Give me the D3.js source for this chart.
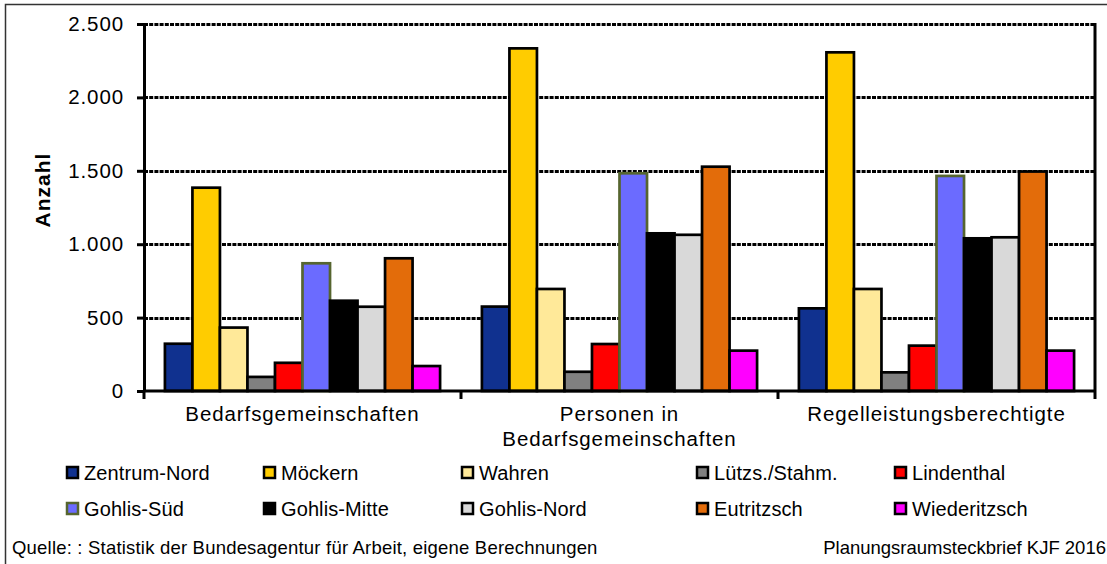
<!DOCTYPE html>
<html>
<head>
<meta charset="utf-8">
<script src="https://cdn.jsdelivr.net/npm/d3@7"></script>
<style>
  body { margin: 0; background: #fff; }
  svg { display: block; font-family: "Liberation Sans", Arial, sans-serif; }
</style>
</head>
<body>
<svg width="1107" height="564"></svg>
<script>
// data
var categories = ["Bedarfsgemeinschaften", "Personen in\nBedarfsgemeinschaften", "Regelleistungsberechtigte"];
var series = ["Zentrum-Nord", "Möckern", "Wahren", "Lützs./Stahm.", "Lindenthal",
              "Gohlis-Süd", "Gohlis-Mitte", "Gohlis-Nord", "Eutritzsch", "Wiederitzsch"];
var colors = ["#10318f", "#ffcc00", "#ffe999", "#808080", "#ff0000",
              "#6b6bff", "#000000", "#d9d9d9", "#e36c0a", "#ff00ff"];
var strokes = ["#000", "#000", "#000", "#000", "#000", "#56652f", "#000", "#000", "#000", "#000"];
// one array per district: values for the three categories
var zentrumNord  = [322, 575, 563];
var moeckern     = [1385, 2334, 2307];
var wahren       = [432, 695, 695];
var luetzs       = [96, 131, 127];
var lindenthal   = [192, 320, 309];
var gohlisSued   = [870, 1483, 1465];
var gohlisMitte  = [615, 1074, 1040];
var gohlisNord   = [574, 1064, 1047];
var eutritzsch   = [904, 1528, 1495];
var wiederitzsch = [170, 275, 275];
var values = [zentrumNord, moeckern, wahren, luetzs, lindenthal,
              gohlisSued, gohlisMitte, gohlisNord, eutritzsch, wiederitzsch];
var yTicks = [0, 500, 1000, 1500, 2000, 2500];

var de = d3.formatLocale({decimal: ",", thousands: ".", grouping: [3], currency: ["", " €"]});
var fmt = de.format(",d");

var svg = d3.select("svg");

// outer frame
svg.append("rect")
  .attr("x", 5.5).attr("y", 4.5)
  .attr("width", 1120).attr("height", 580)
  .attr("fill", "none").attr("stroke", "#333").attr("stroke-width", 1.5);

var plotL = 144, plotR = 1095, plotT = 24, plotB = 391;

var x0 = d3.scaleBand().domain(categories).range([plotL, plotR]);
var x1 = d3.scaleBand().domain(series).range([0, x0.bandwidth()]).paddingOuter(0.76);
var y = d3.scaleLinear().domain([0, 2500]).range([plotB, plotT]);

// gridlines
svg.append("g").selectAll("line")
  .data(yTicks.filter(function(d) { return d > 0; }))
  .join("line")
  .attr("x1", plotL).attr("x2", plotR)
  .attr("y1", function(d) { return Math.round(y(d)) + 0.5; })
  .attr("y2", function(d) { return Math.round(y(d)) + 0.5; })
  .attr("stroke", "#000").attr("stroke-width", 3)
  .attr("stroke-dasharray", "4,1.2");

// right border of plot area
svg.append("line")
  .attr("x1", plotR).attr("x2", plotR).attr("y1", plotT - 1).attr("y2", plotB)
  .attr("stroke", "#000").attr("stroke-width", 3);

// bars
var groups = svg.append("g").selectAll("g")
  .data(categories)
  .join("g")
  .attr("transform", function(d) { return "translate(" + x0(d) + ",0)"; });

groups.selectAll("rect")
  .data(function(c, ci) {
    return series.map(function(s, si) { return {s: s, i: si, v: values[si][ci]}; });
  })
  .join("rect")
  .attr("x", function(d) { return x1(d.s); })
  .attr("width", x1.bandwidth())
  .attr("y", function(d) { return y(d.v); })
  .attr("height", function(d) { return plotB - y(d.v); })
  .attr("fill", function(d) { return colors[d.i]; })
  .attr("stroke", function(d) { return strokes[d.i]; })
  .attr("stroke-width", 2.7);

// y axis
var yAxis = svg.append("g")
  .attr("transform", "translate(" + plotL + ",0)")
  .call(d3.axisLeft(y).tickValues(yTicks).tickFormat(fmt).tickSize(7).tickSizeOuter(0).tickPadding(13));
yAxis.select(".domain").attr("stroke", "#000").attr("stroke-width", 3);
yAxis.selectAll(".tick line").attr("stroke", "#000").attr("stroke-width", 3);
yAxis.selectAll(".tick text")
  .attr("font-size", 20.5).attr("letter-spacing", 0.9).attr("fill", "#000")
  .attr("font-family", "Liberation Sans, Arial, sans-serif");

// x axis
var xAxis = svg.append("g")
  .attr("transform", "translate(0," + plotB + ")");
xAxis.append("line")
  .attr("x1", plotL).attr("x2", plotR)
  .attr("stroke", "#000").attr("stroke-width", 3);
xAxis.selectAll(".tk")
  .data(categories.map(function(c) { return x0(c); }).concat([plotR]))
  .join("line")
  .attr("class", "tk")
  .attr("x1", function(d) { return d; }).attr("x2", function(d) { return d; })
  .attr("y1", 0).attr("y2", 8)
  .attr("stroke", "#000").attr("stroke-width", 3);

var labels = xAxis.selectAll("text")
  .data(categories)
  .join("text")
  .attr("text-anchor", "middle")
  .attr("font-size", 20.5).attr("letter-spacing", 0.9)
  .attr("x", function(d) { return x0(d) + x0.bandwidth() / 2; })
  .attr("y", 30);
labels.selectAll("tspan")
  .data(function(d) { return d.split("\n"); })
  .join("tspan")
  .attr("x", function() { var p = this.parentNode; return p.getAttribute("x"); })
  .attr("dy", function(d, i) { return i === 0 ? 0 : 25; })
  .text(function(d) { return d; });

// y axis title
svg.append("text")
  .attr("transform", "translate(50,190) rotate(-90)")
  .attr("text-anchor", "middle")
  .attr("font-size", 21).attr("font-weight", "bold").attr("letter-spacing", 1)
  .text("Anzahl");

// legend
var legendCols = [66, 263, 461, 696, 894];
var legend = svg.append("g").selectAll("g")
  .data(series)
  .join("g")
  .attr("transform", function(d, i) {
    return "translate(" + legendCols[i % 5] + "," + (466 + Math.floor(i / 5) * 36) + ")";
  });
legend.append("rect")
  .attr("x", 1).attr("y", 1)
  .attr("width", 11).attr("height", 11)
  .attr("fill", function(d, i) { return colors[i]; })
  .attr("stroke", function(d, i) { return strokes[i]; })
  .attr("stroke-width", 2.5);
legend.append("text")
  .attr("x", 18).attr("y", 14)
  .attr("font-size", 20).attr("letter-spacing", 0.1)
  .text(function(d) { return d; });

// footer
svg.append("text")
  .attr("x", 12).attr("y", 554)
  .attr("font-size", 18.5).attr("letter-spacing", 0.2)
  .text("Quelle: : Statistik der Bundesagentur für Arbeit, eigene Berechnungen");
svg.append("text")
  .attr("x", 1106).attr("y", 554)
  .attr("text-anchor", "end")
  .attr("font-size", 18.5)
  .text("Planungsraumsteckbrief KJF 2016");
</script>
</body>
</html>
